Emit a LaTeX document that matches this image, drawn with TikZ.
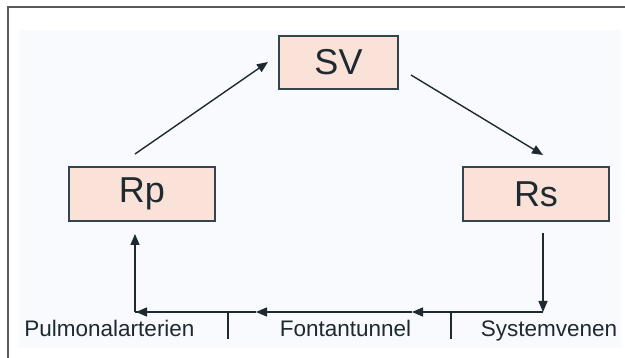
\documentclass[tikz,border=0pt]{standalone}
\usepackage{fontspec}
\setmainfont{Liberation Sans}
\usetikzlibrary{arrows.meta}
\definecolor{boxfill}{RGB}{250,226,216}
\definecolor{boxline}{RGB}{52,68,76}
\definecolor{inkc}{RGB}{30,42,48}
\definecolor{bgc}{RGB}{248,250,253}
\definecolor{framec}{RGB}{90,90,90}
\tikzset{
  rbox/.style={draw=boxline, line width=1.3pt, fill=boxfill, minimum width=146pt, minimum height=54pt, inner sep=0pt, text=inkc, font=\fontsize{36}{36}\selectfont},
  svbox/.style={rbox, minimum width=119pt, minimum height=53pt},
  arr/.style={draw=inkc, line width=1.4pt, -{Triangle[length=11pt,width=9pt]}},
  plain/.style={draw=inkc, line width=1.4pt},
  lbl/.style={text=inkc, font=\fontsize{22.5}{22.5}\selectfont, anchor=base, inner sep=0pt}
}
\begin{document}
\begin{tikzpicture}[x=1pt,y=-1pt]
\useasboundingbox (0,0) rectangle (625,358);
\fill[white] (0,0) rectangle (625,358);
\fill[bgc] (19,30) rectangle (621,348);
\draw[framec, line width=1.3pt] (8,358) -- (8,7) -- (625,7);

\node[svbox] (SV) at (338.5,62.5) {SV};
\node[rbox] (Rp) at (142,194) {Rp};
\node[rbox] (Rs) at (536,194) {Rs};

\coordinate (rpOut) at (135,154);
\coordinate (svIn) at (268,62);
\coordinate (svOut) at (411,75);
\coordinate (rsIn) at (543,155);
\coordinate (rsOut) at (543,233);
\coordinate (cR) at (543,312);
\coordinate (m1) at (412,312);
\coordinate (m2) at (256,312);
\coordinate (cL) at (135,312);
\coordinate (rpIn) at (135,234);
\coordinate (t1a) at (228,312);
\coordinate (t1b) at (228,339);
\coordinate (t2a) at (451,312);
\coordinate (t2b) at (451,339);

\draw[arr] (rpOut) -- (svIn);
\draw[arr] (svOut) -- (rsIn);
\draw[arr] (rsOut) -- (cR);
\draw[arr] (cR) -- (m1);
\draw[arr] (m1) -- (m2);
\draw[arr] (m2) -- ([xshift=1pt]cL);
\draw[plain] (cL) -- (m2);
\draw[arr] (cL) -- (rpIn);
\draw[plain] (t1a) -- (t1b);
\draw[plain] (t2a) -- (t2b);

\node[lbl] (pa) at (109.5,337) {Pulmonalarterien};
\node[lbl] (ft) at (345.5,337) {Fontantunnel};
\node[lbl] (sv2) at (549,337) {Systemvenen};
\end{tikzpicture}
\end{document}
